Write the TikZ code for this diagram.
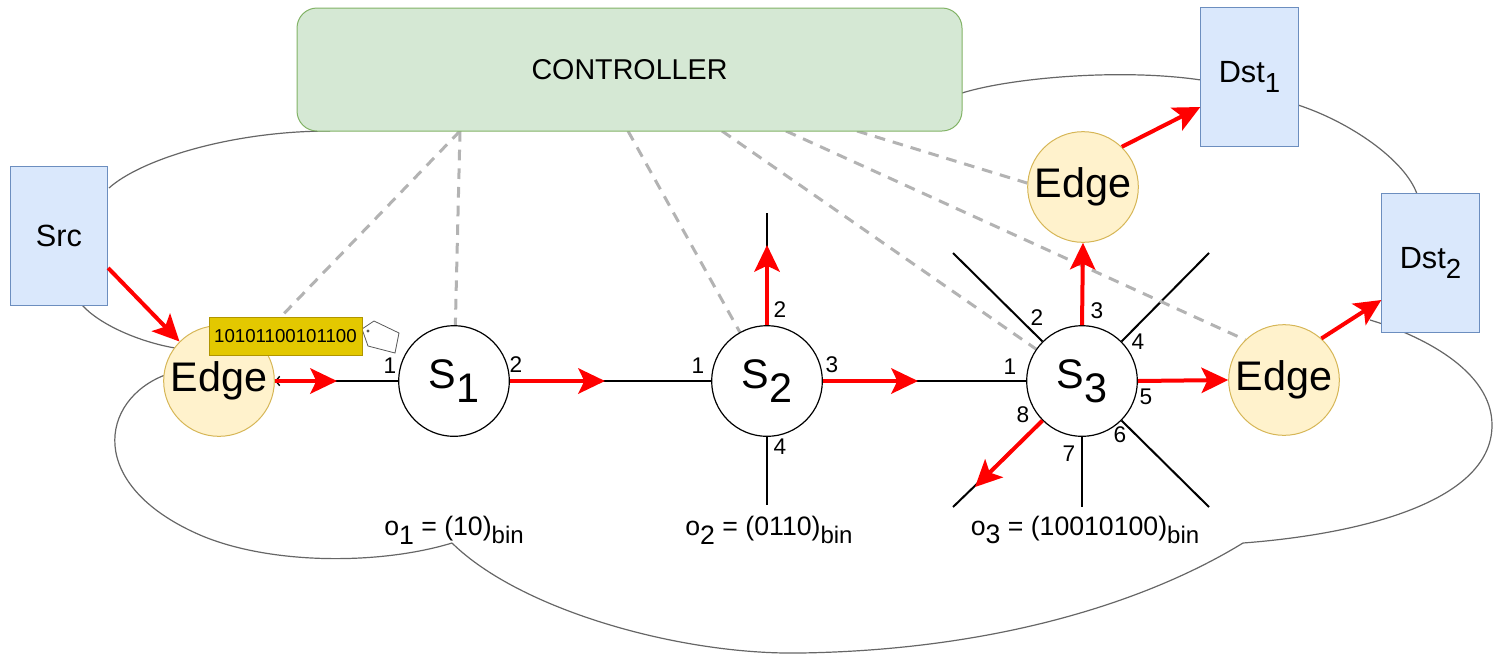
\documentclass[tikz,border=0pt]{standalone}
\usepackage{fontspec}
\setmainfont{Liberation Sans}
\usepackage{graphicx}
\usetikzlibrary{arrows.meta,calc}
\pgfdeclarelayer{cloudlayer}
\pgfdeclarelayer{linklayer}
\pgfsetlayers{cloudlayer,linklayer,main}

\definecolor{ctrlfill}{HTML}{D5E8D4}
\definecolor{ctrldraw}{HTML}{82B366}
\definecolor{hostfill}{HTML}{DAE8FC}
\definecolor{hostdraw}{HTML}{6C8EBF}
\definecolor{edgefill}{HTML}{FFF2CC}
\definecolor{edgedraw}{HTML}{D6B656}
\definecolor{tagfill}{HTML}{E3C800}
\definecolor{tagdraw}{HTML}{B09500}
\definecolor{flowred}{HTML}{FF0000}
\definecolor{ctlgray}{HTML}{B3B3B3}
\definecolor{cloudline}{HTML}{666666}

% lowered index, same size as the base text
\newcommand\lsub[1]{\raisebox{-0.33em}{#1}}
% lowered, slightly smaller index
\newcommand\ssub[1]{\raisebox{-0.3em}{\scalebox{0.9}{#1}}}

\begin{document}
\begin{tikzpicture}[x=0.75pt,y=-0.75pt,
  host/.style={draw=hostdraw, fill=hostfill, line width=0.75pt,
    minimum width=73pt, minimum height=104pt, inner sep=0pt,
    font=\fontsize{23}{25}\selectfont},
  edgenode/.style={circle, draw=edgedraw, fill=edgefill, line width=0.75pt,
    minimum size=83pt, inner sep=0pt, font=\fontsize{31}{32}\selectfont},
  switch/.style={circle, draw=black, fill=white, line width=0.9pt,
    minimum size=83pt, inner sep=0pt, font=\fontsize{31}{32}\selectfont},
  port/.style={font=\fontsize{17}{18}\selectfont, inner sep=0pt},
  order/.style={font=\fontsize{20}{21}\selectfont, inner sep=0pt},
  link/.style={draw=black, line width=1.5pt},
  flow/.style={draw=flowred, line width=3pt,
    -{Stealth[length=20pt,width=19pt,inset=4.5pt]}},
  ctl/.style={draw=ctlgray, line width=2.25pt, dash pattern=on 8pt off 6pt},
  cloud/.style={draw=cloudline, line width=0.9pt},
]
\useasboundingbox (0,0) rectangle (1495,654);

% ---- controller and hosts
\node[draw=ctrldraw, fill=ctrlfill, rounded corners=15pt, line width=0.75pt,
  minimum width=498.75pt, minimum height=92.25pt,
  font=\fontsize{21.5}{23}\selectfont] (ctrl) at (629.5,69.5) {CONTROLLER};
\node[host] (src)  at (59,236)     {Src};
\node[host] (dst1) at (1249.5,77)  {Dst\ssub{1}};
\node[host] (dst2) at (1430.5,263) {Dst\ssub{2}};

% ---- edge nodes and switches
\node[edgenode] (edgeL) at (219,381)  {Edge};
\node[edgenode] (edgeT) at (1083,187) {Edge};
\node[edgenode] (edgeR) at (1284,380) {Edge};
\node[switch] (S1) at (454,381)  {S\lsub{1}};
\node[switch] (S2) at (767,381)  {S\lsub{2}};
\node[switch] (S3) at (1082,381) {S\lsub{3}};

% ---- free ends of links
\coordinate (eLout)   at (337,381);
\coordinate (s1out)   at (605,381);
\coordinate (s2out)   at (918,381);
\coordinate (s2up)    at (767,213);
\coordinate (s2uptip) at (767,245);
\coordinate (s2down)  at (767,505);
\coordinate (s3ul)    at (953,253);
\coordinate (s3ur)    at (1209,253);
\coordinate (s3dr)    at (1209,507);
\coordinate (s3dn)    at (1082,507);
\coordinate (s3dl)    at (953,507);
\coordinate (s3dltip) at (975,487);
\coordinate (srcport) at ($(src.east)+(0,32)$);
\coordinate (dst1in)  at ($(dst1.west)+(0,30)$);
\coordinate (dst2in)  at ($(dst2.west)+(0,37)$);
\coordinate (c1) at (460,131);
\coordinate (c2) at (628,131);
\coordinate (c3) at (722,131);
\coordinate (c4) at (786,131);
\coordinate (c5) at (857,131);

% ---- network outline
\begin{pgfonlayer}{cloudlayer}
\draw[cloud] (330,131) .. controls (230,131) and (140,160) .. (109,188);
\draw[cloud] (82,305) .. controls (100,325) and (140,342) .. (175,348);
\draw[cloud] (165,375) .. controls (100,400) and (85,485) .. (200,535)
  .. controls (270,565) and (380,565) .. (452,543);
\draw[cloud] (452,543) .. controls (520,610) and (680,655) .. (800,653)
  .. controls (1000,650) and (1150,600) .. (1243,543);
\draw[cloud] (1243,543) .. controls (1350,535) and (1492,505) .. (1492,425)
  .. controls (1492,370) and (1420,335) .. (1370,320);
\draw[cloud] (1298,105) .. controls (1350,122) and (1405,160) .. (1417,194);
\draw[cloud] (962,93) .. controls (1010,78) and (1120,68) .. (1201,80);
\end{pgfonlayer}

% ---- data-plane links and control channels
\begin{pgfonlayer}{linklayer}
\draw[link, -{Straight Barb[length=3pt,width=7pt,line width=1pt]}] (S1) -- (edgeL);
\draw[link] (S1) -- (S2);
\draw[link] (S2) -- (S3);
\draw[link] (S2.north) -- (s2up);
\draw[link] (S2.south) -- (s2down);
\draw[link] (S3.135) -- (s3ul);
\draw[link] (S3.45) -- (s3ur);
\draw[link] (S3.-45) -- (s3dr);
\draw[link] (S3.south) -- (s3dn);
\draw[link] (S3.-135) -- (s3dl);

\draw[ctl] (c1) -- (edgeL);
\draw[ctl] (c1) -- (S1);
\draw[ctl] (c2) -- (S2);
\draw[ctl] (c3) -- (S3);
\draw[ctl] (c4) -- (edgeR.134);
\draw[ctl] (c5) -- (edgeT.176);
\end{pgfonlayer}

% ---- packet path
\draw[flow] (srcport) -- (edgeL.135);
\draw[flow] (edgeL.east) -- (eLout);
\draw[flow] (S1.east) -- (s1out);
\draw[flow] (S2.east) -- (s2out);
\draw[flow] (S2.north) -- (s2uptip);
\draw[flow] (S3.north) -- (edgeT.south);
\draw[flow] (S3.east) -- (edgeR.west);
\draw[flow] (S3.-135) -- (s3dltip);
\draw[flow] (edgeT.46) -- (dst1in);
\draw[flow] (edgeR.48) -- (dst2in);

% ---- route label carried by the packet
\draw[draw=gray!70!black, fill=white, line width=0.6pt]
  (362,329) -- (374,321) -- (399,333) -- (395,353) -- (368,346) -- cycle;
\fill[gray!70!black] (368,331) circle (1.3pt);
\node[draw=tagdraw, fill=tagfill, line width=0.75pt, minimum width=114.75pt,
  minimum height=28.5pt, inner sep=0pt, font=\fontsize{14}{15}\selectfont]
  (tag) at (285.5,336) {10101100101100};

% ---- port numbers
\node[port] (p11) at (390,366) {1};
\node[port] (p12) at (516,365) {2};
\node[port] (p21) at (698,366) {1};
\node[port] (p22) at (780,310) {2};
\node[port] (p23) at (832,365) {3};
\node[port] (p24) at (780,447) {4};
\node[port] (p31) at (1010,367) {1};
\node[port] (p32) at (1037,318) {2};
\node[port] (p33) at (1097,311) {3};
\node[port] (p34) at (1138,342) {4};
\node[port] (p35) at (1146,397) {5};
\node[port] (p36) at (1120,435) {6};
\node[port] (p37) at (1069,454) {7};
\node[port] (p38) at (1023,415) {8};

% ---- per-switch output masks
\node[order] (o1) at (454,530)  {o\lsub{1} = (10)\ssub{bin}};
\node[order] (o2) at (769,530)  {o\lsub{2} = (0110)\ssub{bin}};
\node[order] (o3) at (1085,530) {o\lsub{3} = (10010100)\ssub{bin}};
\end{tikzpicture}
\end{document}
